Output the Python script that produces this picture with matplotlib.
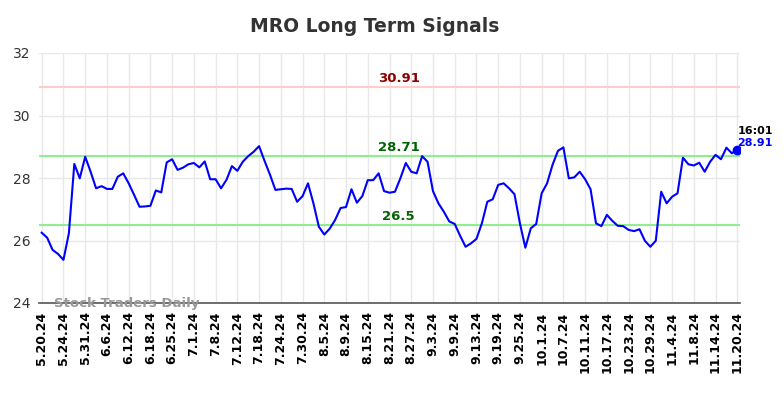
import matplotlib
matplotlib.use("Agg")
import matplotlib.pyplot as plt

title = "MRO Long Term Signals"
tick_labels = ["5.20.24", "5.24.24", "5.31.24", "6.6.24", "6.12.24", "6.18.24", "6.25.24",
               "7.1.24", "7.8.24", "7.12.24", "7.18.24", "7.24.24", "7.30.24", "8.5.24",
               "8.9.24", "8.15.24", "8.21.24", "8.27.24", "9.3.24", "9.9.24", "9.13.24",
               "9.19.24", "9.25.24", "10.1.24", "10.7.24", "10.11.24", "10.17.24",
               "10.23.24", "10.29.24", "11.4.24", "11.8.24", "11.14.24", "11.20.24"]
prices = [26.25, 26.09, 25.70, 25.57, 25.38, 26.23, 28.45, 27.99, 28.68, 28.20,
          27.67, 27.74, 27.65, 27.65, 28.04, 28.15, 27.83, 27.46, 27.08, 27.09,
          27.11, 27.60, 27.54, 28.50, 28.60, 28.26, 28.33, 28.44, 28.48, 28.34,
          28.53, 27.96, 27.96, 27.67, 27.94, 28.38, 28.23, 28.52, 28.70, 28.84,
          29.02, 28.55, 28.11, 27.62, 27.64, 27.66, 27.65, 27.24, 27.42, 27.83,
          27.19, 26.44, 26.19, 26.38, 26.66, 27.04, 27.07, 27.64, 27.21, 27.42,
          27.93, 27.93, 28.15, 27.58, 27.53, 27.56, 27.99, 28.48, 28.20, 28.15,
          28.70, 28.52, 27.58, 27.19, 26.92, 26.61, 26.53, 26.15, 25.80, 25.91,
          26.05, 26.55, 27.24, 27.32, 27.78, 27.83, 27.67, 27.48, 26.55, 25.77,
          26.39, 26.53, 27.51, 27.83, 28.42, 28.87, 28.98, 27.99, 28.02, 28.20,
          27.96, 27.64, 26.55, 26.46, 26.82, 26.63, 26.47, 26.46, 26.34, 26.30,
          26.36, 25.99, 25.80, 25.99, 27.56, 27.19, 27.40, 27.51, 28.65, 28.44,
          28.40, 28.49, 28.20, 28.52, 28.74, 28.60, 28.97, 28.79, 28.91]
resistance_high = 30.91
resistance = 28.71
support = 26.5
last_time = "16:01"
last_price = 28.91
y_ticks = [24, 26, 28, 30, 32]
watermark = "Stock Traders Daily"

fig = plt.figure(figsize=(7.84, 3.98), dpi=100)
ax = fig.add_axes([39 / 784, 1 - 303 / 398, (740 - 39) / 784, (303 - 53) / 398])

x = list(range(len(prices)))
tick_pos = list(range(0, len(prices), 4))

ax.set_xlim(-0.5, len(prices) - 0.5)
ax.set_ylim(24, 32)
ax.set_xticks(tick_pos)
ax.set_xticklabels(tick_labels, rotation=90, fontweight="bold", fontsize=9)
ax.set_yticks(y_ticks)
ax.set_yticklabels([str(v) for v in y_ticks], fontsize=10, color="#333333")
ax.tick_params(axis="both", length=0, pad=6)
ax.grid(True, color="#e8e8e8", linewidth=1)
ax.set_axisbelow(True)
for s in ["top", "right", "left"]:
    ax.spines[s].set_visible(False)
ax.spines["bottom"].set_color("#555555")
ax.spines["bottom"].set_linewidth(1.2)

ax.axhline(resistance_high, color="#ffcccc", linewidth=1.5)
ax.axhline(resistance, color="#90ee90", linewidth=1.5)
ax.axhline(support, color="#90ee90", linewidth=1.5)

ax.plot(x, prices, color="#0000ff", linewidth=1.5)
ax.plot(x[-1], prices[-1], "o", color="#0000ff", markersize=6)

mid = 65.7
ax.text(mid, resistance_high + 0.05, f"{resistance_high:.2f}", color="#8b0000",
        fontsize=9.5, fontweight="bold", ha="center", va="bottom")
ax.text(mid, resistance + 0.05, f"{resistance:.2f}", color="#006400",
        fontsize=9.5, fontweight="bold", ha="center", va="bottom")
ax.text(mid, support + 0.05, f"{support:g}", color="#006400",
        fontsize=9.5, fontweight="bold", ha="center", va="bottom")

ax.text(x[-1], last_price + 0.45, last_time, color="black", fontsize=8,
        fontweight="bold", ha="left", va="bottom")
ax.text(x[-1], last_price + 0.05, f"{last_price:.2f}", color="#0000ff", fontsize=8,
        fontweight="bold", ha="left", va="bottom")

ax.text(2.2, 24.0, watermark, color="#999999", fontsize=9.5, fontweight="bold",
        ha="left", va="center")

fig.text(375 / 784, 1 - 26 / 398, title, ha="center", va="center",
         fontsize=13.5, fontweight="bold", color="#333333")

fig.savefig("out.png", dpi=100)
